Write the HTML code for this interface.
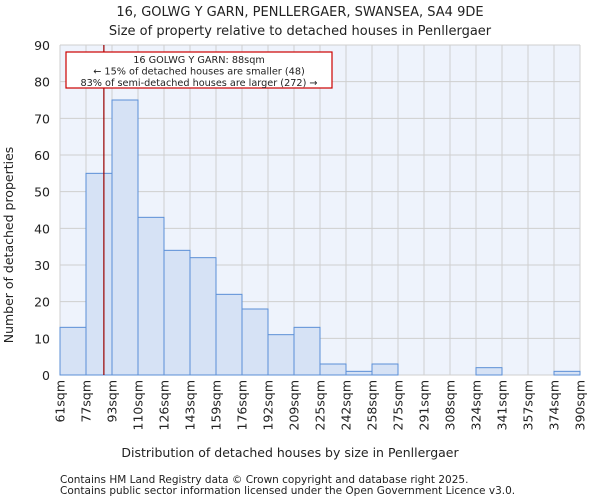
<!DOCTYPE html>
<html><head><meta charset="utf-8"><style>
body{margin:0;background:#fff;font-family:"DejaVu Sans","Liberation Sans",sans-serif;}
svg text{font-family:"DejaVu Sans","Liberation Sans",sans-serif;fill:#222;}
</style></head><body>
<svg id="chart" width="600" height="500" xmlns="http://www.w3.org/2000/svg">
<text x="300" y="16" text-anchor="middle" font-size="13">16, GOLWG Y GARN, PENLLERGAER, SWANSEA, SA4 9DE</text>
<text x="300" y="35" text-anchor="middle" font-size="13">Size of property relative to detached houses in Penllergaer</text>
<rect x="60" y="45" width="520" height="330" fill="#eef3fc"/>
<g id="grid"></g>
<g id="bars"></g>
<g id="axes"></g>
<text x="290" y="457" text-anchor="middle" font-size="12.5">Distribution of detached houses by size in Penllergaer</text>
<text transform="translate(13,245) rotate(-90)" text-anchor="middle" font-size="12.5">Number of detached properties</text>
<text x="60" y="483" font-size="10.5" fill="#444">Contains HM Land Registry data © Crown copyright and database right 2025.</text>
<text x="60" y="494" font-size="10.5" fill="#444">Contains public sector information licensed under the Open Government Licence v3.0.</text>
</svg>
<script>
const tickLabels=["61sqm","77sqm","93sqm","110sqm","126sqm","143sqm","159sqm","176sqm","192sqm","209sqm","225sqm","242sqm","258sqm","275sqm","291sqm","308sqm","324sqm","341sqm","357sqm","374sqm","390sqm"];
const binEdges=[61,77,93,110,126,143,159,176,192,209,225,242,258,275,291,308,324,341,357,374,390];
const counts=[13,55,75,43,34,32,22,18,11,13,3,1,3,0,0,0,2,0,0,1];
const yTicks=[0,10,20,30,40,50,60,70,80,90];
const propertySize=88;
const X0=60,W=520,Y0=375,H=330,YMAX=90;
const ns="http://www.w3.org/2000/svg";
const nb=counts.length;
function xIdx(i){return X0+W*i/nb;}
function xVal(v){for(let i=0;i<binEdges.length-1;i++){if(v<=binEdges[i+1])return xIdx(i)+(v-binEdges[i])/(binEdges[i+1]-binEdges[i])*(W/nb);}return X0+W;}
function y(v){return Y0-v/YMAX*H;}
function mk(t,a,p){const e=document.createElementNS(ns,t);for(const k in a)e.setAttribute(k,a[k]);p.appendChild(e);return e;}
const grid=document.getElementById('grid'),bars=document.getElementById('bars'),axes=document.getElementById('axes');
for(let i=0;i<=nb;i++){const l=mk('line',{x1:xIdx(i),x2:xIdx(i),y1:45,y2:375,stroke:'#cfcfcf','stroke-width':1},grid);

}
yTicks.forEach(t=>{const l=mk('line',{x1:60,x2:580,y1:y(t),y2:y(t),stroke:'#cfcfcf','stroke-width':1},grid);


const tx=mk('text',{x:50,y:y(t)+5,'text-anchor':'end','font-size':12.5},axes);tx.textContent=t;

});
counts.forEach((c,i)=>{if(c<=0)return;const r=mk('rect',{x:xIdx(i),y:y(c),width:W/nb,height:Y0-y(c),fill:'#d6e2f5',stroke:'#5b8fd6','stroke-width':1},bars);

});
tickLabels.forEach((t,i)=>{const x=xIdx(i);const tx=mk('text',{transform:`translate(${x+4.5},380) rotate(-90)`,'text-anchor':'end','font-size':12.5},axes);tx.textContent=t;

});
const px=xVal(propertySize);
const ml=mk('line',{x1:px,x2:px,y1:45,y2:375,stroke:'#990000','stroke-width':1.2},axes);


const box=mk('rect',{x:66,y:52,width:266,height:36,fill:'#fff',stroke:'#cc0000','stroke-width':1.2},axes);


["16 GOLWG Y GARN: 88sqm","← 15% of detached houses are smaller (48)","83% of semi-detached houses are larger (272) →"].forEach((s,i)=>{const tx=mk('text',{x:199,y:63+i*11.5,'text-anchor':'middle','font-size':9.7},axes);tx.textContent=s;

});
</script>
</body></html>
